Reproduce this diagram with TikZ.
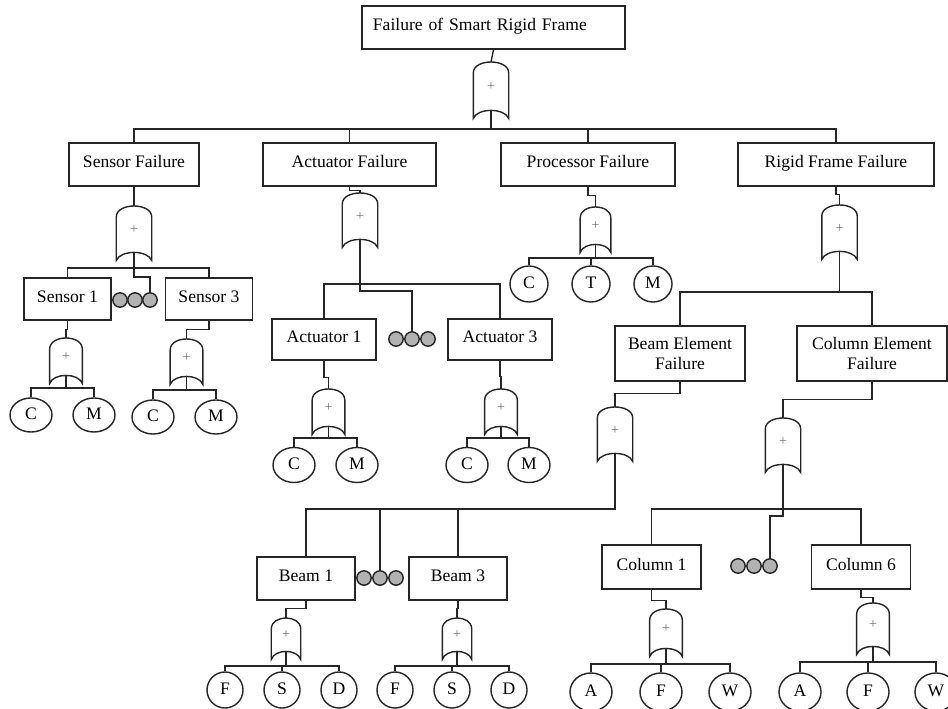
\documentclass[tikz,border=0pt]{standalone}
\usepackage{fontspec}
\setmainfont{Liberation Serif}
\usetikzlibrary{shapes.geometric,calc}
\begin{document}
\begin{tikzpicture}[x=0.025cm,y=-0.025cm,line width=1pt,draw=black!85,
  font=\fontsize{12.5}{14.5}\selectfont,
  twobox/.style={draw,rectangle,minimum height=1.075cm,inner sep=2pt,align=center},
  box/.style={twobox,text height=0.68em,text depth=0.22em},
  event/.style={draw,ellipse,inner sep=0pt,minimum width=1.05cm,minimum height=0.85cm,text height=0.68em,text depth=0em},
  biggate/.style={rectangle,inner sep=0pt,minimum width=0.85cm,minimum height=1.125cm,anchor=north,text=black!55,font=\fontsize{10}{10}\selectfont},
  smallgate/.style={biggate,minimum width=0.78cm,minimum height=0.9cm},
  dot/.style={circle,draw,fill=black!30,inner sep=0pt,minimum size=0.36cm}]
\useasboundingbox (0,0) rectangle (948,709);
\node[box,minimum width=6.575cm,text width=6.025cm,inner xsep=0.275cm,align=left] (top) at (493.5,27.5) {Failure of Smart Rigid Frame};
\node[biggate,minimum height=1.175cm] (g0) at (491,62) {+};
\node[box,minimum width=3.25cm] (sf) at (134,164.5) {Sensor Failure};
\node[box,minimum width=4.325cm] (af) at (349.5,164.5) {Actuator Failure};
\node[box,minimum width=4.35cm] (pf) at (588,164.5) {Processor Failure};
\node[box,minimum width=4.9cm] (rf) at (836,164.5) {Rigid Frame Failure};
\node[biggate] (gsf) at (134,206) {+};
\node[biggate] (gaf) at (360,193) {+};
\node[smallgate,minimum width=0.73cm] (gpf) at (595.5,207) {+};
\node[biggate] (grf) at (839.5,205) {+};
\node[box,minimum width=2.175cm,minimum height=1.05cm] (s1) at (67.5,299) {Sensor 1};
\node[box,minimum width=2.175cm,minimum height=1.05cm] (s3) at (209,299) {Sensor 3};
\node[dot] (sd1) at (120,300) {};
\node[dot] (sd2) at (135,300) {};
\node[dot] (sd3) at (150,300) {};
\node[smallgate] (gs1) at (66,338) {+};
\node[smallgate] (gs3) at (186.5,339) {+};
\node[event] (s1c) at (31,415) {C};
\node[event] (s1m) at (94,415) {M};
\node[event] (s3c) at (153,417) {C};
\node[event] (s3m) at (216,417) {M};
\node[box,minimum width=2.6cm,minimum height=1.025cm] (a1) at (324,339.5) {Actuator 1};
\node[box,minimum width=2.6cm,minimum height=1.025cm] (a3) at (500,339.5) {Actuator 3};
\node[dot] (ad1) at (396,339) {};
\node[dot] (ad2) at (412,339) {};
\node[dot] (ad3) at (428,339) {};
\node[smallgate] (ga1) at (328.5,389) {+};
\node[smallgate] (ga3) at (501,389) {+};
\node[event,minimum height=0.875cm] (a1c) at (294,465) {C};
\node[event,minimum height=0.875cm] (a1m) at (357,465) {M};
\node[event,minimum height=0.875cm] (a3c) at (467,465) {C};
\node[event,minimum height=0.875cm] (a3m) at (529,465) {M};
\node[event,minimum width=0.95cm,minimum height=0.9cm] (pc) at (529,284) {C};
\node[event,minimum width=0.95cm,minimum height=0.9cm] (pt) at (591,284) {T};
\node[event,minimum width=0.95cm,minimum height=0.9cm] (pm) at (653,284) {M};
\node[twobox,minimum width=3.25cm,minimum height=1.375cm] (bef) at (680,353.5) {Beam Element\\Failure};
\node[twobox,minimum width=3.75cm,minimum height=1.375cm] (cef) at (872,353.5) {Column Element\\Failure};
\node[biggate] (gbef) at (615,407) {+};
\node[biggate] (gcef) at (783,418) {+};
\node[box,minimum width=2.45cm] (b1) at (306,578.5) {Beam 1};
\node[box,minimum width=2.45cm] (b3) at (458,578.5) {Beam 3};
\node[dot] (bd1) at (364,578) {};
\node[dot] (bd2) at (380,578) {};
\node[dot] (bd3) at (396,578) {};
\node[smallgate,minimum width=0.7cm,minimum height=0.8cm] (gb1) at (286,618) {+};
\node[smallgate,minimum width=0.7cm,minimum height=0.8cm] (gb3) at (457,618) {+};
\node[event,minimum width=0.9cm,minimum height=0.9cm] (b1f) at (225,690) {F};
\node[event,minimum width=0.9cm,minimum height=0.9cm] (b1s) at (282,690) {S};
\node[event,minimum width=0.9cm,minimum height=0.9cm] (b1d) at (339,690) {D};
\node[event,minimum width=0.9cm,minimum height=0.9cm] (b3f) at (395,690) {F};
\node[event,minimum width=0.9cm,minimum height=0.9cm] (b3s) at (452,690) {S};
\node[event,minimum width=0.9cm,minimum height=0.9cm] (b3d) at (509,690) {D};
\node[box,minimum width=2.475cm,minimum height=1.1cm] (c1) at (651.5,567) {Column 1};
\node[box,minimum width=2.475cm,minimum height=1.1cm] (c6) at (861,567) {Column 6};
\node[dot] (cd1) at (738,566) {};
\node[dot] (cd2) at (754,566) {};
\node[dot] (cd3) at (770,566) {};
\node[smallgate,minimum height=0.95cm] (gc1) at (666,609) {+};
\node[smallgate,minimum height=1.05cm] (gc6) at (873,603) {+};
\node[event,minimum height=0.95cm] (c1a) at (591,692) {A};
\node[event,minimum height=0.95cm] (c1f) at (661,692) {F};
\node[event,minimum height=0.95cm] (c1w) at (730,692) {W};
\node[event,minimum height=0.95cm] (c6a) at (800,692) {A};
\node[event,minimum height=0.95cm] (c6f) at (868,692) {F};
\node[event,minimum height=0.95cm] (c6w) at (936,692) {W};
\foreach \g in {g0,gsf,gaf,gpf,grf,gs1,gs3,ga1,ga3,gbef,gcef,gb1,gb3,gc1,gc6}
  \draw ($(\g.south west)+(0,8)$) -- ($(\g.north west)+(0,11)$)
    .. controls ($(\g.north west)+(0,-3.67)$) and ($(\g.north east)+(0,-3.67)$) .. ($(\g.north east)+(0,11)$)
    -- ($(\g.south east)+(0,8)$)
    .. controls ($(\g.south east)!0.12!(\g.south west)+(0,-2.67)$) and ($(\g.south west)!0.12!(\g.south east)+(0,-2.67)$) .. cycle;
\coordinate (bus0) at (491,129);
\coordinate (bus1) at (134,268);
\coordinate (bus2) at (360,284);
\coordinate (bus3) at (595.5,258);
\coordinate (bus4) at (839.5,292);
\coordinate (bus5) at (615,509);
\coordinate (bus6) at (783,509);
\draw (top.south) -- (g0.north);
\draw (g0.south) -- (bus0);
\draw (sf.north) |- (bus0) -| (rf.north);
\draw (af.north) -- (af.north |- bus0);
\draw (pf.north) -- (pf.north |- bus0);
\draw (sf.south) -- (gsf.north);
\draw (af.south) -- ++(0,4) -| (gaf.north);
\draw (pf.south) -- ++(0,9) -| (gpf.north);
\draw (rf.south) -- ++(0,8) -| (grf.north);
\draw (s1.north) |- (bus1) -| (s3.north);
\draw (gsf.south) -- (bus1) -- ++(0,9) -| (sd3.north);
\draw (a1.north) |- (bus2) -| (a3.north);
\draw (gaf.south) -- (bus2) -- ++(0,7) -| (ad2.north);
\draw (pc.north) |- (bus3) -| (pm.north);
\draw (pt.north) -- (pt.north |- bus3);
\draw (gpf.south) -- (bus3);
\draw (bef.north) |- (bus4) -| (cef.north);
\draw (grf.south) -- (bus4);
\draw (s1.south) -- ++(0,9) -| (gs1.north);
\draw (s3.south) -- ++(0,9) -| (gs3.north);
\draw (gs1.south) -- (gs1.south |- 0,388);
\draw (s1c.north) |- (gs1.south |- 0,388) -| (s1m.north);
\draw (gs3.south) -- (gs3.south |- 0,390);
\draw (s3c.north) |- (gs3.south |- 0,390) -| (s3m.north);
\draw (a1.south) -- ++(0,17) -| (ga1.north);
\draw (a3.south) -- ++(0,16) -| (ga3.north);
\draw (ga1.south) -- (ga1.south |- 0,438);
\draw (a1c.north) |- (ga1.south |- 0,438) -| (a1m.north);
\draw (ga3.south) -- (ga3.south |- 0,438);
\draw (a3c.north) |- (ga3.south |- 0,438) -| (a3m.north);
\draw (bef.south) -- ++(0,12) -| (gbef.north);
\draw (cef.south) -- ++(0,18) -| (gcef.north);
\draw (gbef.south) -- (bus5) -| (b1.north);
\draw (b3.north) -- (b3.north |- bus5);
\draw (bd2.north) -- (bd2.north |- bus5);
\draw (c1.north) |- (bus6) -| (c6.north);
\draw (gcef.south) -- (bus6) -- ++(0,7) -| (cd3.north);
\draw (b1.south) -- ++(0,8) -| (gb1.north);
\draw (b3.south) -- ++(0,8) -| (gb3.north);
\draw (gb1.south) -- (gb1.south |- 0,666);
\draw (b1f.north) |- (gb1.south |- 0,666) -| (b1d.north);
\draw (b1s.north) -- (b1s.north |- 0,666);
\draw (gb3.south) -- (gb3.south |- 0,666);
\draw (b3f.north) |- (gb3.south |- 0,666) -| (b3d.north);
\draw (b3s.north) -- (b3s.north |- 0,666);
\draw (c1.south) -- ++(0,11) -| (gc1.north);
\draw (c6.south) -- ++(0,8) -| (gc6.north);
\draw (gc1.south) -- (gc1.south |- 0,664);
\draw (c1a.north) |- (gc1.south |- 0,664) -| (c1w.north);
\draw (c1f.north) -- (c1f.north |- 0,664);
\draw (gc6.south) -- (gc6.south |- 0,662);
\draw (c6a.north) |- (gc6.south |- 0,662) -| (c6w.north);
\draw (c6f.north) -- (c6f.north |- 0,662);
\end{tikzpicture}
\end{document}
